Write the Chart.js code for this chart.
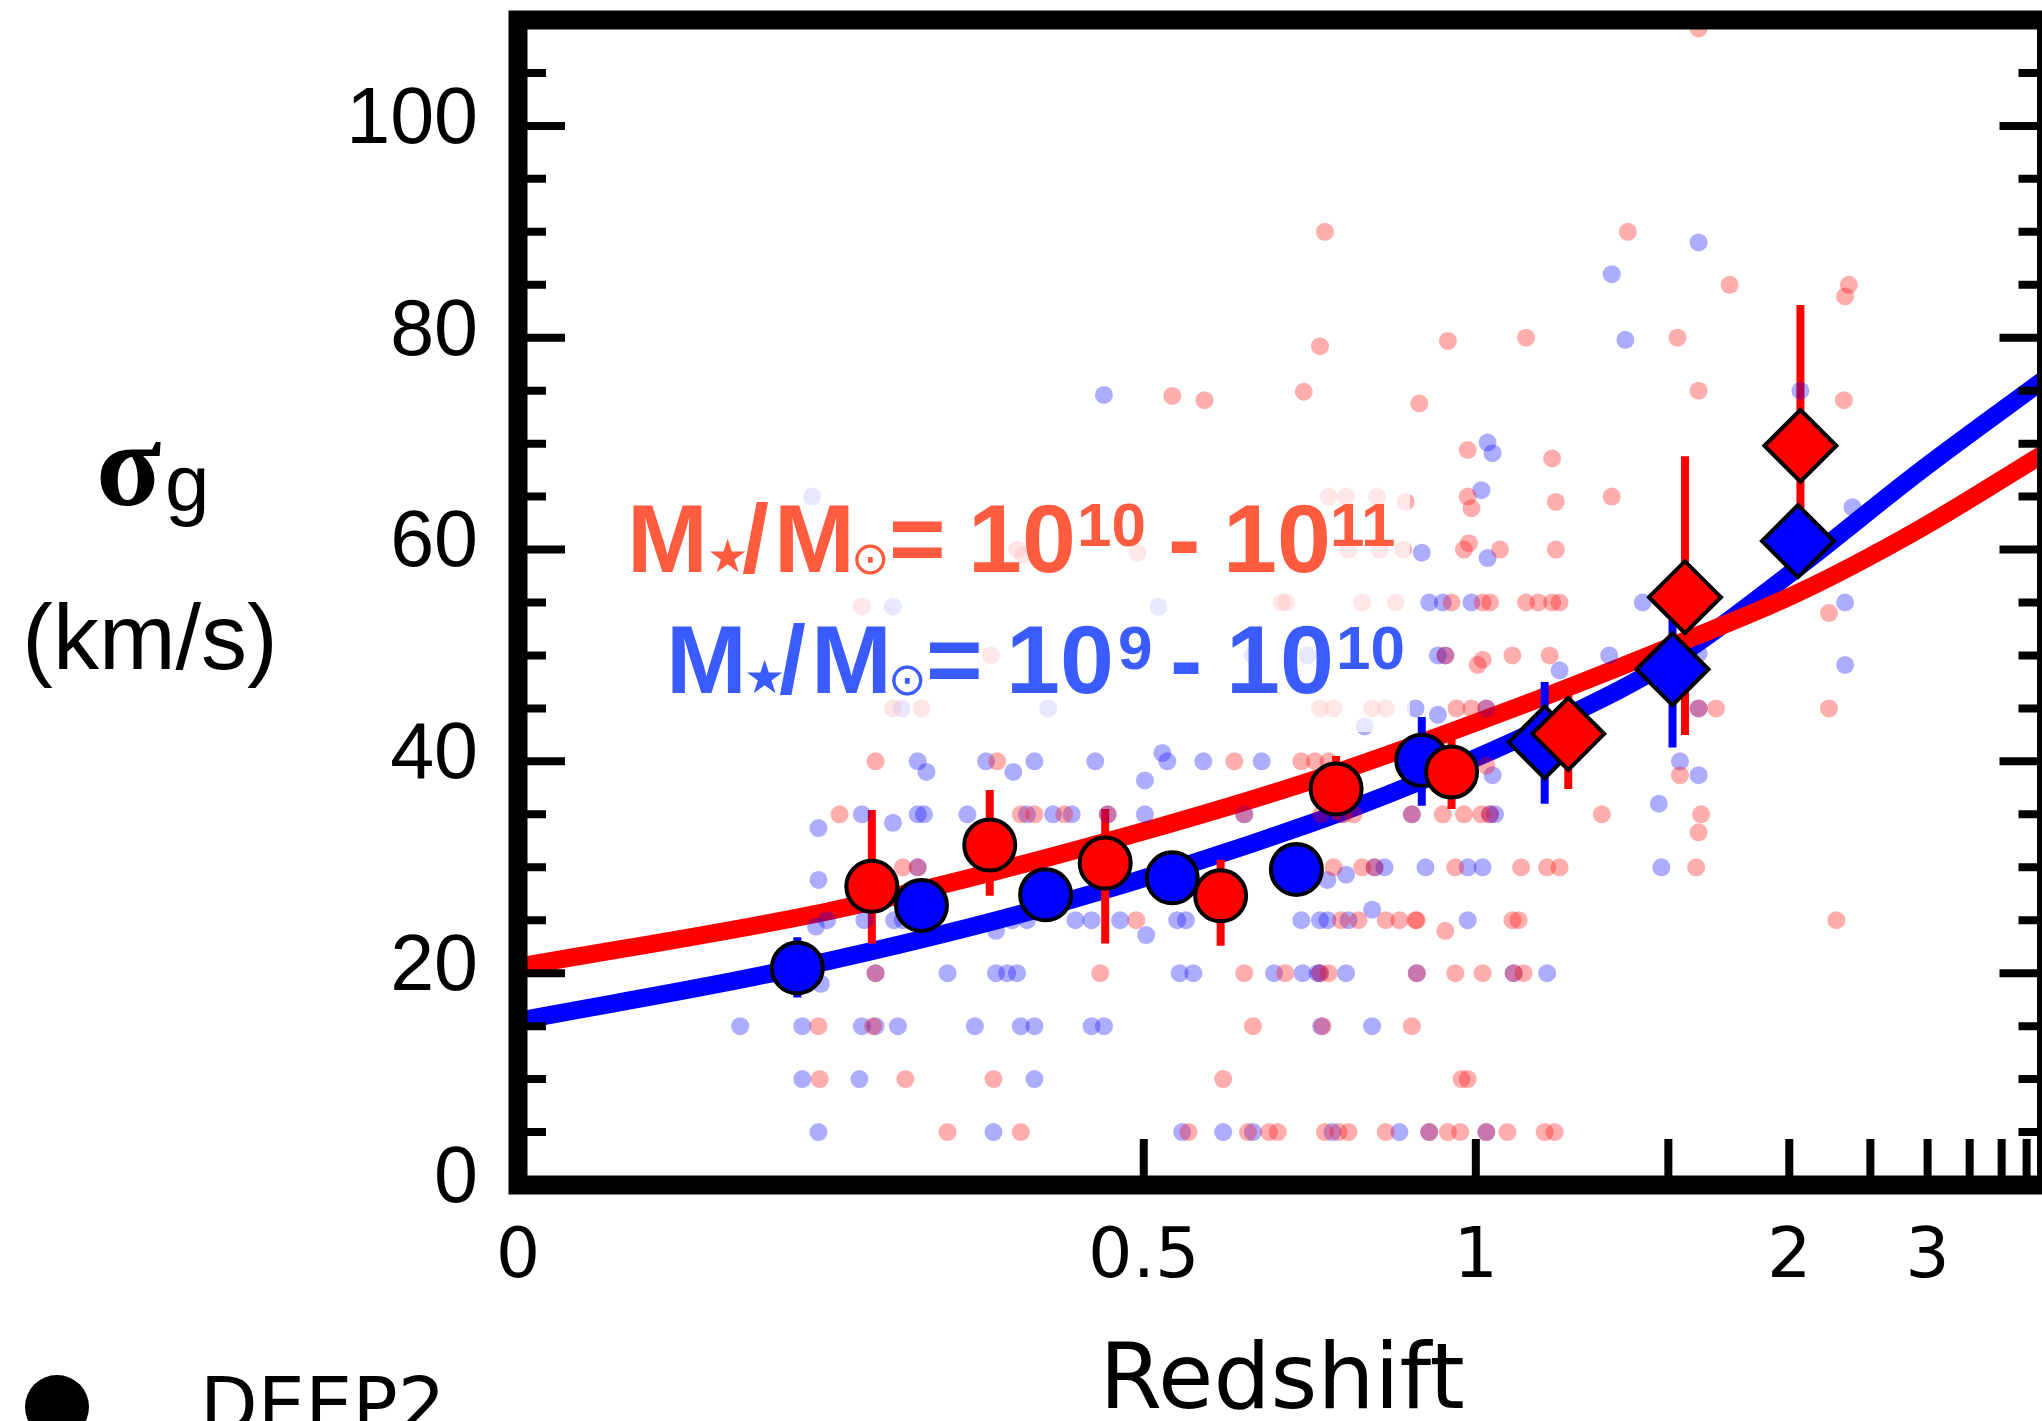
<!DOCTYPE html>
<html>
<head>
<meta charset="utf-8">
<script src="https://cdn.jsdelivr.net/npm/chart.js@4.4.1/dist/chart.umd.min.js"></script>
<style>
  html, body { margin: 0; padding: 0; background: #fff; overflow: hidden; }
  #wrap { width: 2100px; height: 1460px; }
</style>
</head>
<body>
<div id="wrap"><canvas id="chart" width="2100" height="1460"></canvas></div>
<script>
// x values are lookback time in Gyr: the axis is linear in lookback time and labelled in redshift
// individual galaxies, M* = 1e10 - 1e11 (red)
const redDotT = [3.46, 4.05, 5.40, 5.88, 6.05, 6.12, 6.50, 6.61, 6.69, 6.99, 7.34, 7.49, 7.59, 7.80, 7.97, 8.27, 8.35,
  2.43, 3.12, 3.83, 5.68, 7.60, 7.65,
  2.42, 2.86, 5.92, 6.48, 7.20,
  2.88, 4.69, 5.85, 6.18, 6.46, 6.53, 7.24, 7.55, 7.77, 8.02, 8.10,
  4.98, 6.63, 6.77, 6.99, 7.10, 7.23, 7.24, 7.47, 8.01, 8.06, 10.62,
  3.10, 3.22, 6.57, 6.80, 6.90, 7.55, 8.08, 8.29, 8.39, 9.49,
  2.59, 4.05, 4.16, 4.40, 4.75, 5.85, 6.47, 6.65, 6.73, 7.20, 7.45, 7.62, 7.76, 7.83, 8.73, 9.53, 9.51,
  2.88, 3.86, 5.77, 6.31, 6.42, 6.53, 7.80, 9.36,
  3.02, 3.25, 6.46, 6.57, 6.88, 6.99, 7.56, 7.68, 7.80, 9.51, 9.65, 10.56,
  3.81, 7.47, 7.73, 7.77, 8.01, 8.31,
  2.77, 6.15, 6.19, 6.80, 7.07, 7.52, 7.77, 7.83, 8.12, 8.22, 8.33, 8.39, 10.56,
  4.02, 4.07, 4.99, 6.69, 6.94, 7.13, 7.62, 7.66, 7.91, 8.36,
  6.53, 6.67, 6.92, 7.15, 7.65, 7.68, 8.36, 8.81,
  7.65, 8.33,
  5.27, 5.53, 6.33, 7.26, 9.51, 10.68,
  6.46, 7.49, 8.12, 9.34,
  9.76, 10.72, 10.69,
  6.50, 8.94,
  9.51];
const redDotSigma = [5, 5, 5, 5, 5, 5, 5, 5, 5, 5, 5, 5, 5, 5, 5, 5, 5,
  10, 10, 10, 10, 10, 10,
  15, 15, 15, 15, 15,
  20, 20, 20, 20, 20, 20, 20, 20, 20, 20, 20,
  25, 25, 25, 25, 25, 25, 25, 24, 25, 25, 25,
  30, 30, 30, 30, 30, 30, 30, 30, 30, 30,
  35, 35, 35, 35, 35, 35, 35, 35, 35, 35, 35, 35, 35, 35, 35, 35, 33.3,
  40, 40, 40, 40, 40, 40, 39.6, 38.7,
  45, 45, 45, 45, 45, 45, 45, 45, 45, 45, 45, 45,
  50, 50, 49.1, 49.6, 50, 50,
  54.6, 55, 55, 55, 55, 55, 55, 55, 55, 55, 55, 55, 54,
  60, 59.5, 59.7, 60, 60, 60, 60, 60.6, 60, 60,
  65, 65, 65, 64.5, 65, 63.9, 64.5, 65,
  69.4, 68.6,
  74.5, 74.1, 74.9, 73.8, 75, 74.1,
  79.2, 79.7, 80, 80,
  85, 85, 83.9,
  90, 90,
  109.2];

// individual galaxies, M* = 1e9 - 1e10 (blue)
const blueDotT = [2.42, 3.83, 5.35, 5.68, 5.92, 6.56, 7.10, 7.34, 7.80,
  2.29, 2.75, 4.16,
  1.79, 2.29, 2.77, 2.88, 3.06, 3.68, 4.05, 4.16, 4.62, 4.72, 6.47, 6.88,
  2.44, 2.88, 3.46, 3.85, 3.94, 4.02, 5.33, 5.44, 6.09, 6.32, 6.44, 6.46, 6.67, 7.24, 8.02, 8.29,
  2.40, 2.49, 2.79, 3.03, 3.10, 3.85, 3.98, 4.10, 4.49, 4.62, 4.85, 5.06, 5.31, 5.38, 6.31, 6.46, 6.52, 6.69, 6.88, 7.65,
  2.42, 3.22, 6.52, 6.67, 6.90, 6.98, 7.31, 7.65, 7.77, 9.21,
  2.42, 2.77, 3.02, 3.22, 3.27, 3.62, 4.10, 4.31, 4.46, 4.75, 5.05, 5.85, 6.56, 6.63, 7.20, 7.83, 7.87, 9.19,
  3.22, 3.29, 3.77, 3.99, 4.16, 4.65, 5.05, 5.19, 5.23, 5.52, 5.99, 7.85, 9.36, 9.51,
  3.09, 4.27, 6.82, 7.23, 7.41, 7.80, 9.51,
  5.92, 6.36, 7.41, 7.47, 8.39, 8.79, 9.51, 10.69,
  3.02, 5.16, 7.34, 7.45, 7.68, 9.06, 10.69,
  7.28, 7.81,
  2.37, 7.76, 10.75,
  7.81, 7.85,
  4.72, 10.33,
  8.92, 8.81, 9.51];
const blueDotSigma = [5, 5, 5, 5, 5, 5, 5, 5, 5,
  10, 10, 10,
  15, 15, 15, 15, 15, 15, 15, 15, 15, 15, 15, 15,
  19, 20, 20, 20, 20, 20, 20, 20, 20, 20, 20, 20, 20, 20, 20, 20,
  24.4, 25, 25, 25, 25, 24, 25, 25, 25, 25, 25, 23.6, 25, 25, 25, 25, 25, 25, 26, 25,
  28.8, 30, 28.8, 29.3, 30, 30, 30, 30, 30, 30,
  33.7, 35, 34.2, 35, 35, 35, 35, 35, 35, 35, 35, 35, 35, 35, 35, 35, 35, 36,
  40, 39, 40, 39, 40, 40, 38.2, 40.8, 40, 40, 40, 38.7, 40, 38.7,
  45, 45, 43.3, 45, 44.4, 45, 45,
  50, 50, 50, 50, 48.6, 50, 50.2, 49.1,
  54.6, 54.6, 55, 55, 55, 55, 55,
  59.7, 59.2,
  65, 65.6, 64,
  70.1, 69.1,
  74.6, 75,
  79.8, 86, 89];

// DEEP2 binned medians (circles) and high-z bins (diamonds), with error bars
const blueCircleT = [2.25, 3.25, 4.25, 5.27, 6.27, 7.28];
const blueCircleSigma = [20.5, 26.4, 27.4, 29.0, 29.8, 40.1];
const blueCircleLo = [17.7, 23.9, 25.0, 26.6, 27.4, 35.8];
const blueCircleHi = [23.4, 28.9, 29.8, 31.4, 32.2, 44.2];
const blueDiamondT = [8.27, 9.30, 10.31];
const blueDiamondSigma = [41.8, 48.7, 60.8];
const blueDiamondLo = [36.0, 41.3, 57.5];
const blueDiamondHi = [47.5, 53.5, 64.0];

const redCircleT = [2.85, 3.80, 4.73, 5.66, 6.59, 7.52];
const redCircleSigma = [28.2, 32.1, 30.4, 27.3, 37.4, 39.0];
const redCircleLo = [22.8, 27.3, 22.8, 22.6, 34.5, 35.5];
const redCircleHi = [35.4, 37.3, 35.5, 30.7, 40.5, 42.5];
const redDiamondT = [8.46, 9.40, 10.33];
const redDiamondSigma = [42.6, 55.5, 69.8];
const redDiamondLo = [37.4, 42.5, 59.0];
const redDiamondHi = [47.5, 68.8, 83.1];

// fitted relations
const redFitT = [0, 2.52, 4.36, 6.40, 8.02, 9.36, 10.31, 11.27, 12.31];
const redFitSigma = [20.6, 25.9, 31.2, 38.2, 45.0, 51.2, 55.9, 61.8, 69.2];
const blueFitT = [0, 2.25, 4.36, 6.40, 7.45, 8.29, 9.30, 10.31, 11.27, 12.31];
const blueFitSigma = [15.5, 20.5, 26.6, 34.2, 39.0, 43.4, 49.6, 58.3, 67.2, 76.2];

// axis ticks
const xTickRedshifts = [0.5, 1, 1.5, 2, 2.5, 3, 3.5, 4, 4.5];
const xLabelRedshifts = [0, 0.5, 1, 2, 3];
const xMaxRedshift = 5;
const yLabels = [0, 20, 40, 60, 80, 100];
const yMax = 110;

// flat LCDM, H0 = 70, Om = 0.3
function lookback(z) {
  const tH = 977.8 / 70, om = 0.3, ol = 0.7;
  const age = zz => (2 / (3 * Math.sqrt(ol))) * tH * Math.asinh(Math.sqrt(ol / om) * Math.pow(1 + zz, -1.5));
  return age(0) - age(z);
}

const pts = (xs, ys) => xs.map((x, i) => ({x: x, y: ys[i]}));
const bars = (xs, lo, hi) => xs.flatMap((x, i) => [{x: x, y: lo[i]}, {x: x, y: hi[i]}, {x: x, y: null}]);

const RED_TXT = '#FF5B3F';
const BLUE_TXT = '#3A5BFF';
const BOLD = 'bold 97px "Liberation Sans"';
const SUP = 'bold 62px "Liberation Sans"';
const STAR = '46px "DejaVu Sans"';
const SUN = '46px "DejaVu Sans"';

const redRuns = [
  ['M', BOLD, 627, 572], ['★', STAR, 707, 572], ['/', BOLD, 742, 572], ['M', BOLD, 774, 572],
  ['⊙', SUN, 851, 574], ['=', BOLD, 889, 572], ['10', BOLD, 968, 572], ['10', SUP, 1077, 546],
  ['-', BOLD, 1168, 572], ['10', BOLD, 1223, 572], ['11', SUP, 1330, 546]
];
const blueRuns = [
  ['M', BOLD, 666, 693], ['★', STAR, 744, 693], ['/', BOLD, 779, 693], ['M', BOLD, 811, 693],
  ['⊙', SUN, 888, 695], ['=', BOLD, 926, 693], ['10', BOLD, 1006, 693], ['9', SUP, 1118, 669],
  ['-', BOLD, 1170, 693], ['10', BOLD, 1226, 693], ['10', SUP, 1336, 669]
];

function drawMassLabels(ctx) {
  ctx.save();
  // semi-transparent text box
  ctx.fillStyle = 'rgba(255,255,255,0.7)';
  ctx.fillRect(620, 485, 790, 247);
  ctx.textAlign = 'left';
  ctx.textBaseline = 'alphabetic';
  [[redRuns, RED_TXT], [blueRuns, BLUE_TXT]].forEach(([runs, color]) => {
    ctx.fillStyle = color;
    runs.forEach(r => { ctx.font = r[1]; ctx.fillText(r[0], r[2], r[3]); });
  });
  ctx.restore();
}

const framePlugin = {
  id: 'frame',
  beforeDatasetsDraw(chart) { chart.$labelsDone = false; },
  beforeDatasetDraw(chart, args) {
    if (!chart.$labelsDone && chart.data.datasets[args.index].marker) {
      drawMassLabels(chart.ctx);
      chart.$labelsDone = true;
    }
  },
  afterDatasetsDraw(chart) {
    const {ctx, chartArea: a, scales: {x, y}} = chart;
    ctx.save();
    ctx.strokeStyle = '#000';
    ctx.lineCap = 'butt';
    ctx.lineWidth = 8;
    ctx.beginPath();
    for (let v = 0; v <= yMax; v += 5) {
      const py = y.getPixelForValue(v);
      const len = v % 20 === 0 ? 47 : 28;
      ctx.moveTo(a.left, py); ctx.lineTo(a.left + len, py);
      ctx.moveTo(a.right, py); ctx.lineTo(a.right - len, py);
    }
    xTickRedshifts.forEach(z => {
      const px = x.getPixelForValue(lookback(z));
      ctx.moveTo(px, a.bottom); ctx.lineTo(px, a.bottom - 46);
    });
    ctx.stroke();
    ctx.lineWidth = 19;
    ctx.lineJoin = 'miter';
    ctx.strokeRect(a.left, a.top, a.right - a.left, a.bottom - a.top);
    ctx.restore();
  },
  afterDraw(chart) {
    const ctx = chart.ctx;
    ctx.save();
    ctx.fillStyle = '#000';
    ctx.textBaseline = 'alphabetic';
    ctx.textAlign = 'left';
    ctx.font = 'bold 120px "Liberation Serif"';
    ctx.fillText('σ', 96, 505);
    ctx.font = '80px "Liberation Sans"';
    ctx.fillText('g', 165, 510);
    ctx.textAlign = 'center';
    ctx.font = '92px "Liberation Sans"';
    ctx.fillText('(km/s)', 150, 669);
    // legend
    ctx.beginPath();
    ctx.arc(57, 1407, 32, 0, Math.PI * 2);
    ctx.fill();
    ctx.textAlign = 'left';
    ctx.font = '75px "DejaVu Sans"';
    ctx.fillText('DEEP2', 200, 1431);
    ctx.restore();
  }
};

Chart.defaults.color = '#000';

const fitLine = (data, color, order) => ({
  type: 'line', data: data, borderColor: color, borderWidth: 18, pointRadius: 0,
  cubicInterpolationMode: 'monotone', borderCapStyle: 'butt', fill: false, order: order
});
const errLine = (data, color, order) => ({
  type: 'line', data: data, borderColor: color, borderWidth: 8, pointRadius: 0,
  spanGaps: false, borderCapStyle: 'butt', fill: false, order: order
});
const dots = (data, color, order) => ({
  type: 'scatter', data: data, backgroundColor: color, borderWidth: 0, pointRadius: 9, order: order
});
const markers = (data, fill, style, r, order) => ({
  type: 'scatter', data: data, backgroundColor: fill, borderColor: '#000', borderWidth: 4,
  pointStyle: style, pointRadius: r, order: order, marker: true
});

new Chart(document.getElementById('chart'), {
  type: 'scatter',
  data: {
    datasets: [
      markers(pts(redDiamondT, redDiamondSigma), '#ff0000', 'rectRot', 36, 1),
      markers(pts(redCircleT, redCircleSigma), '#ff0000', 'circle', 25.5, 2),
      markers(pts(blueDiamondT, blueDiamondSigma), '#0000ff', 'rectRot', 36, 3),
      markers(pts(blueCircleT, blueCircleSigma), '#0000ff', 'circle', 25.5, 4),
      dots(pts(redDotT, redDotSigma), 'rgba(255,0,0,0.32)', 5),
      dots(pts(blueDotT, blueDotSigma), 'rgba(0,0,255,0.32)', 6),
      errLine(bars(redCircleT.concat(redDiamondT), redCircleLo.concat(redDiamondLo), redCircleHi.concat(redDiamondHi)), '#ff0000', 7),
      errLine(bars(blueCircleT.concat(blueDiamondT), blueCircleLo.concat(blueDiamondLo), blueCircleHi.concat(blueDiamondHi)), '#0000ff', 8),
      fitLine(pts(redFitT, redFitSigma), '#ff0000', 9),
      fitLine(pts(blueFitT, blueFitSigma), '#0000ff', 10)
    ]
  },
  options: {
    responsive: false,
    animation: false,
    devicePixelRatio: 1,
    events: [],
    layout: { autoPadding: false, padding: { left: 0, top: 20, right: 53.5, bottom: 0 } },
    plugins: { legend: { display: false }, tooltip: { enabled: false } },
    scales: {
      x: {
        type: 'linear',
        min: 0,
        max: lookback(xMaxRedshift),
        grid: { display: false, drawTicks: false },
        border: { display: false },
        afterBuildTicks: s => { s.ticks = xLabelRedshifts.map(z => ({ value: lookback(z) })); },
        afterFit: s => { s.height = 275; s.paddingLeft = 0; s.paddingRight = 0; },
        ticks: {
          autoSkip: false, maxRotation: 0, padding: 32, color: '#000',
          font: { family: 'DejaVu Sans', size: 70 },
          callback: (v, i) => String(xLabelRedshifts[i])
        },
        title: {
          display: true, text: 'Redshift', color: '#000',
          font: { family: 'DejaVu Sans', size: 90 },
          padding: { top: 0, bottom: 21 }
        }
      },
      y: {
        min: 0,
        max: yMax,
        grid: { display: false, drawTicks: false },
        border: { display: false },
        afterBuildTicks: s => { s.ticks = yLabels.map(v => ({ value: v })); },
        afterFit: s => { s.width = 518; s.paddingTop = 0; s.paddingBottom = 0; },
        ticks: {
          padding: 40, labelOffset: -5, color: '#000',
          font: { family: 'Liberation Sans', size: 79 }
        }
      }
    }
  },
  plugins: [framePlugin]
});
</script>
</body>
</html>
